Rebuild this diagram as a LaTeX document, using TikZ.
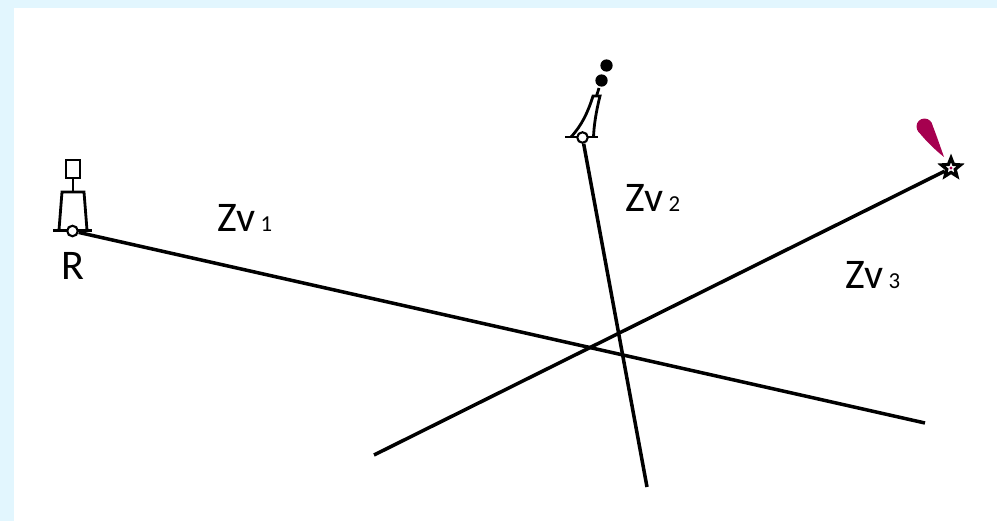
\documentclass[tikz,border=0pt]{standalone}
\usepackage{fontspec}
\setmainfont{Carlito}
\usetikzlibrary{shapes.geometric}
\definecolor{pagetint}{HTML}{E2F6FE}
\definecolor{flarered}{HTML}{A6004F}
\tikzset{
  course/.style={black,line width=2pt},
  outline/.style={black,line width=1.6pt},
  hole/.style={circle,draw=black,fill=white,line width=1.2pt,minimum size=6pt,inner sep=0pt},
  ball/.style={circle,fill=black,minimum size=7pt,inner sep=0pt},
  zvtext/.style={anchor=base west,inner sep=0pt,font=\fontsize{24}{24}\selectfont},
}
\newcommand{\zvidx}[1]{\hspace{0.13em}{\fontsize{13}{13}\selectfont #1}}
\begin{document}
\begin{tikzpicture}[x=0.02cm,y=-0.02cm]
\useasboundingbox (0,0) rectangle (997,521);
\fill[pagetint] (0,0) rectangle (997,521);
\fill[white] (14,8) rectangle (997,521);
% courses
\coordinate (endR) at (925,423);
\coordinate (endB) at (647,487);
\coordinate (endS) at (374,455);
% buoy at R
\draw[outline] (66,160) rectangle (80,178);
\draw[outline] (73,178) -- (73,192);
\draw[outline] (59,230) -- (62,192) -- (84,192) -- (87,230);
\draw[outline] (53,230.500) -- (92,230.500);
\node[hole] (buoyR) at (72.500,231) {};
\draw[course] (buoyR) -- (endR);
\node[zvtext,anchor=base] (nameR) at (73,279) {R};
% buoy with two balls
\draw[outline] (571,137) .. controls (582,125) and (588,112) .. (593,96) -- (600,96) .. controls (596,112) and (594,125) .. (593.500,137);
\draw[outline] (599,88) -- (596.500,96);
\draw[outline] (565,137) -- (598,137);
\node[ball] (ballA) at (606.500,65.500) {};
\node[ball] (ballB) at (601.500,80.500) {};
\node[hole] (buoyB) at (582.500,137.500) {};
\draw[course] (buoyB) -- (endB);
% star with flare
\node[star,star points=5,star point ratio=2.3,draw=black,fill=white,line width=1.8pt,minimum size=11.5pt,inner sep=0pt] (lightS) at (951,168) {};
\fill[flarered] (lightS.center) circle (1.6);
\fill[flarered] (924.500,126.500) circle (8);
\fill[flarered] (944,157) .. controls (939,143) and (935,131) .. (931.200,122.200) -- (917.800,130.800) .. controls (925,140) and (934,149) .. (944,157);
\draw[course] (endS) -- (lightS);
% labels
\node[zvtext] (zvA) at (217,231) {Zv\zvidx{1}};
\node[zvtext] (zvB) at (625,211) {Zv\zvidx{2}};
\node[zvtext] (zvC) at (845,288) {Zv\zvidx{3}};
\end{tikzpicture}
\end{document}
